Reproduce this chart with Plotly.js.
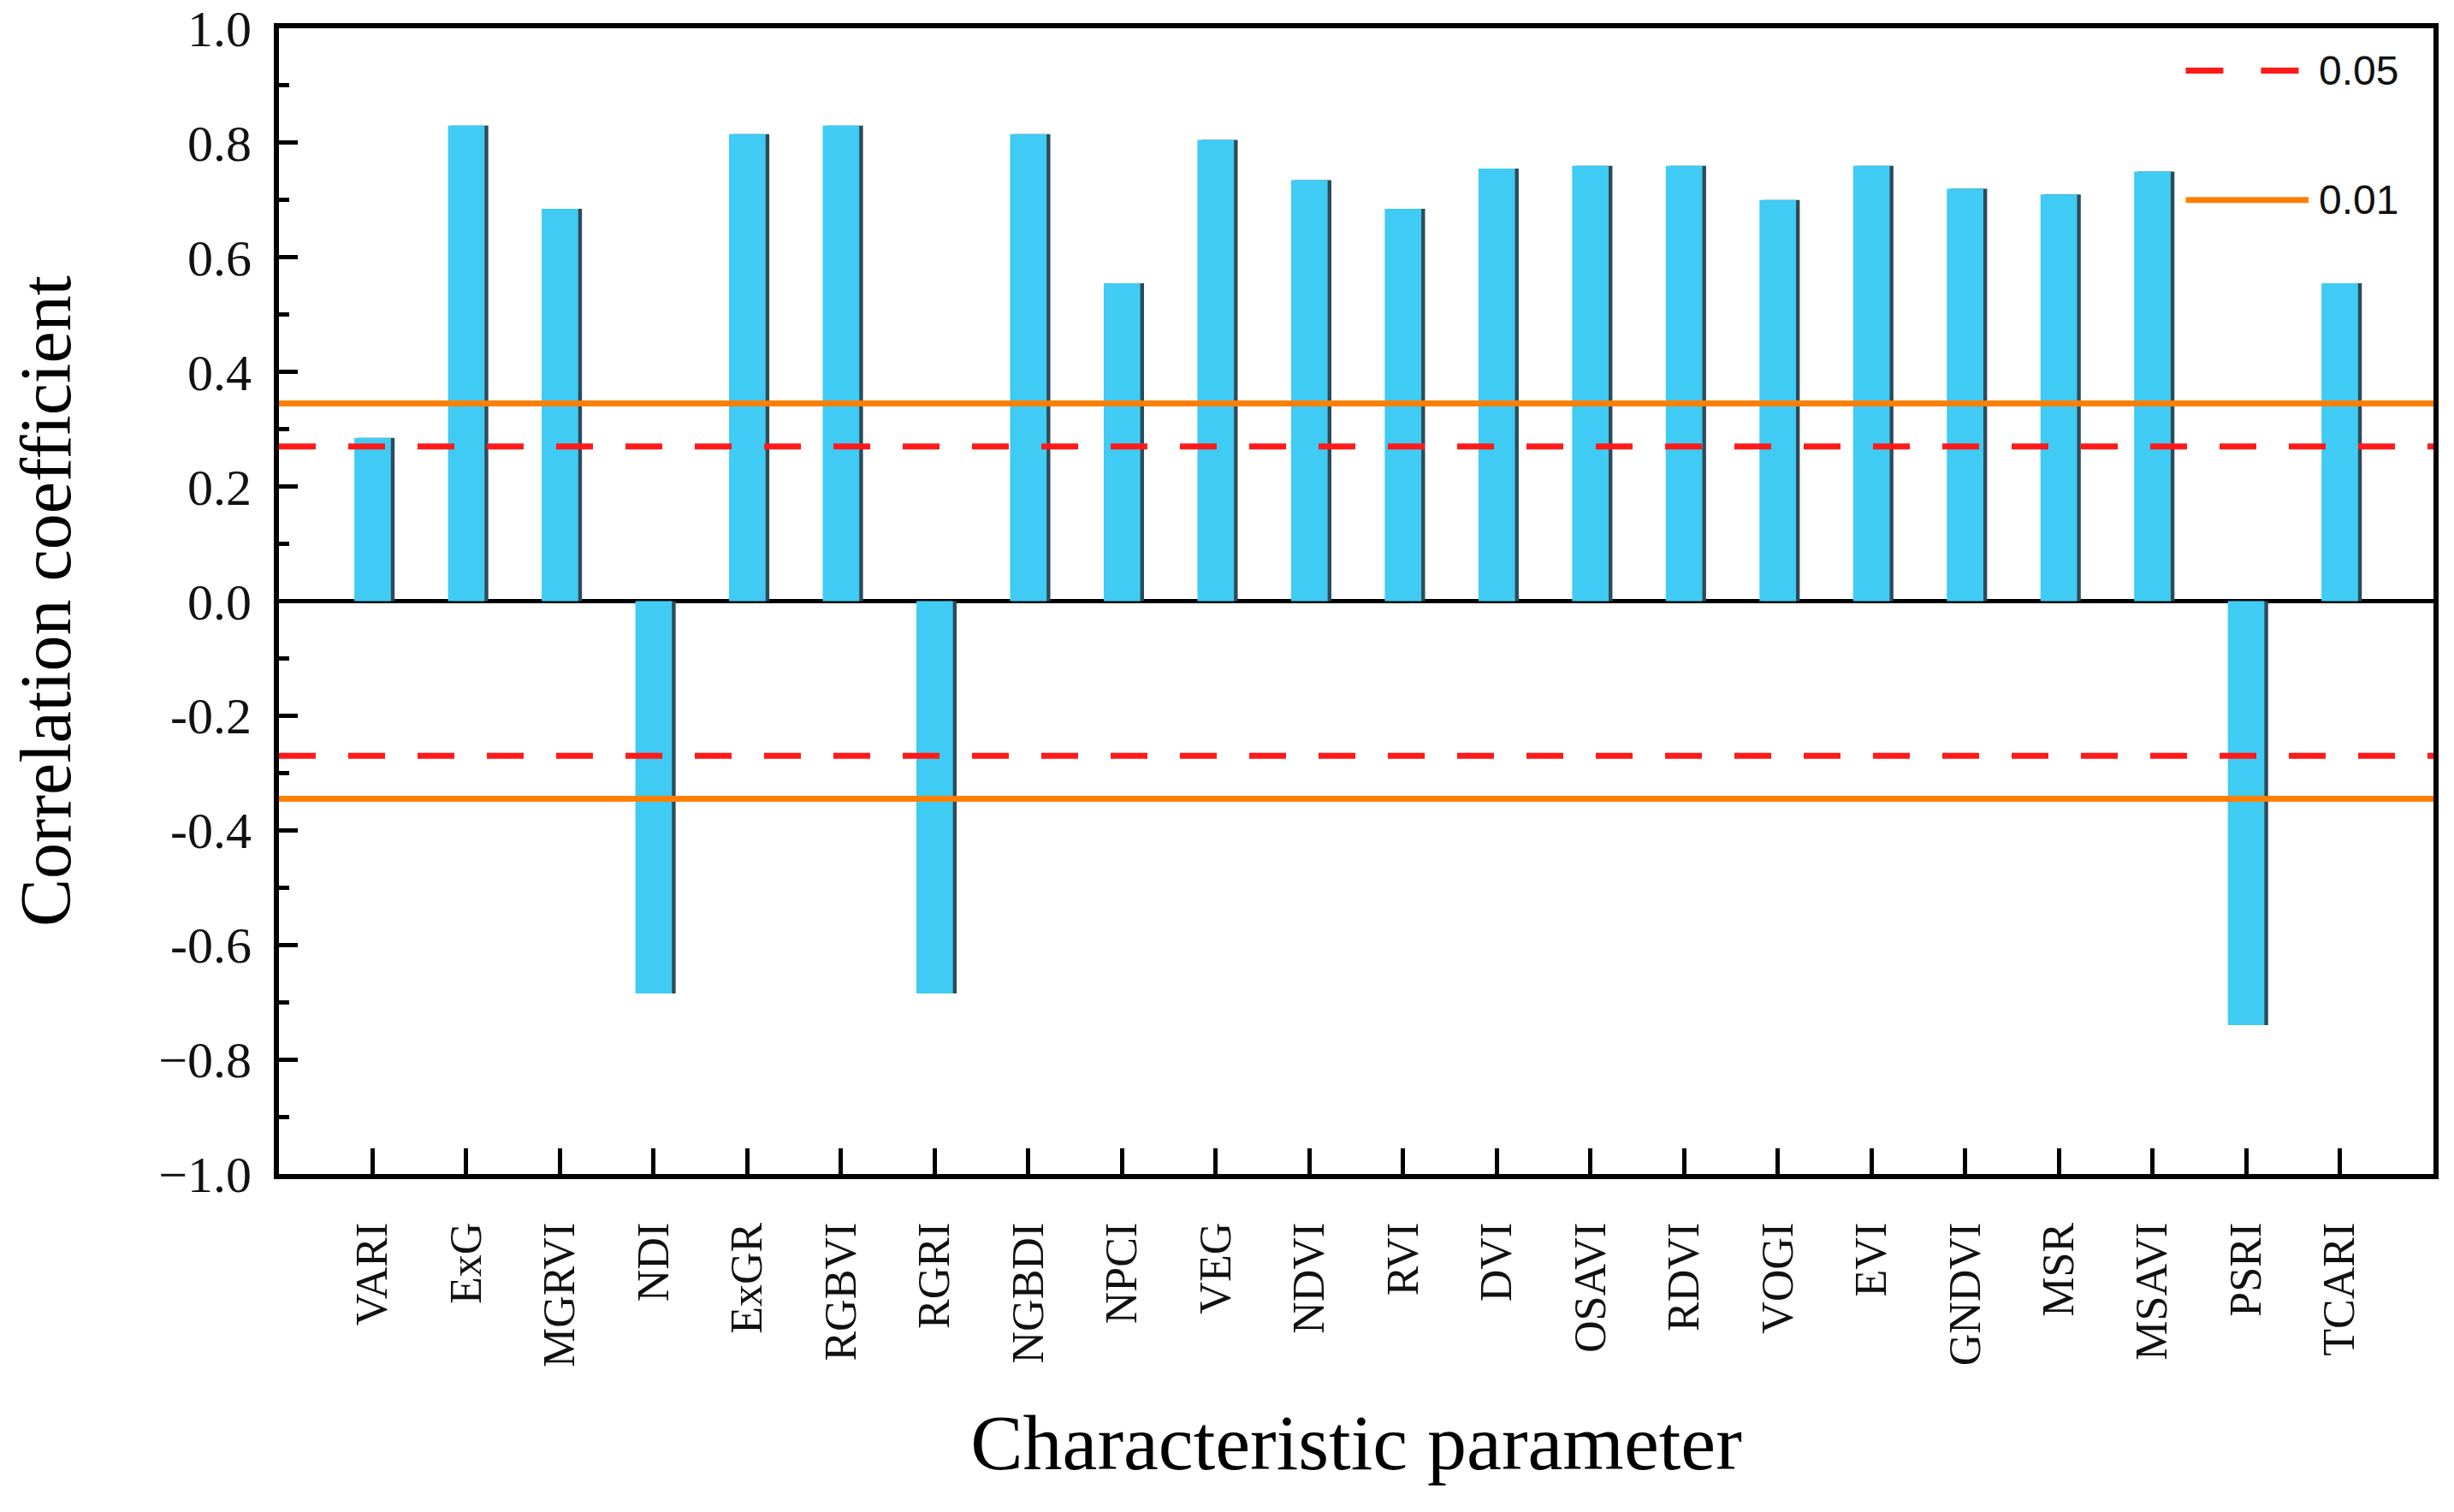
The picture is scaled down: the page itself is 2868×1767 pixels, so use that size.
<!DOCTYPE html>
<html>
<head>
<meta charset="utf-8">
<script src="https://cdn.plot.ly/plotly-3.0.1.min.js"></script>
<style>
html,body{margin:0;padding:0;background:#fff;}
#chart{width:2868px;height:1767px;}
</style>
</head>
<body>
<div id="chart"></div>
<script>
// ---- data ----
const categories = ['VARI','ExG','MGRVI','NDI','ExGR','RGBVI','RGRI','NGBDI','NPCI','VEG','NDVI','RVI','DVI','OSAVI','RDVI','VOGI','EVI','GNDVI','MSR','MSAVI','PSRI','TCARI'];
const correlation = [0.285,0.83,0.685,-0.685,0.815,0.83,-0.685,0.815,0.555,0.805,0.735,0.685,0.755,0.76,0.76,0.70,0.76,0.72,0.71,0.75,-0.74,0.555];
const thresholdLabels = ['0.05','0.01'];
const thresholdValues = [0.27, 0.345];
const yTickValues = [-1.0,-0.8,-0.6,-0.4,-0.2,0.0,0.2,0.4,0.6,0.8,1.0];
const yTickLabels = ['\u22121.0','\u22120.8','-0.6','-0.4','-0.2','0.0','0.2','0.4','0.6','0.8','1.0'];
const xTitle = 'Characteristic parameter';
const yTitle = 'Correlation coefficient';

const idx = categories.map((c,i)=>i);
const xEnds = [-1, categories.length];

const traces = [];
// bar shadow (dark right edge)
traces.push({
  type:'bar', x: idx, y: correlation, width: 0.39, offset: -0.195 + 0.04,
  marker:{color:'#2d4b57', line:{width:0}}, showlegend:false, hoverinfo:'skip'
});
traces.push({
  type:'bar', x: idx, y: correlation, width: 0.39, offset: -0.195,
  marker:{color:'#3FCBF4', line:{width:0}}, showlegend:false, name:'r'
});
// threshold lines
const styles = [
  {color:'#FF1A1A', width:7, dash:'43px,38px'},
  {color:'#FF8000', width:7, dash:'solid'}
];
thresholdValues.forEach((v,k)=>{
  [v,-v].forEach(val=>{
    traces.push({type:'scatter', mode:'lines', x: xEnds, y:[val,val],
      line: styles[k], showlegend:false, hoverinfo:'skip', name: thresholdLabels[k]});
  });
});

// custom legend (long line samples)
const legendY = [0.963, 0.850];
const shapes = [];
const annotations = [];
thresholdLabels.forEach((lab,k)=>{
  shapes.push({type:'line', xref:'paper', yref:'paper', x0:0.885, x1: 0.942, y0:legendY[k], y1:legendY[k],
    line:{color:styles[k].color, width:7, dash: k===0?'44px,44px':'solid'}});
  annotations.push({xref:'paper', yref:'paper', x:0.946, y:legendY[k], xanchor:'left', yanchor:'middle',
    text: lab, showarrow:false, font:{family:'Liberation Sans, Arial, sans-serif', size:48, color:'#111'}});
});

const layout = {
  width:2868, height:1767,
  margin:{l:326, r:24, t:33, b:395},
  paper_bgcolor:'#fff', plot_bgcolor:'#fff',
  showlegend:false,
  barmode:'overlay',
  font:{family:'Liberation Serif, Times New Roman, serif', color:'#111'},
  xaxis:{
    range: xEnds, tickmode:'array', tickvals: idx, ticktext: categories,
    tickangle:-90, ticks:'inside', ticklen:30, tickwidth:5, tickcolor:'#000',
    showline:true, linewidth:6, linecolor:'#000', mirror:true,
    showgrid:false, zeroline:false,
    tickfont:{family:'Liberation Serif, Times New Roman, serif', size:52, color:'#111'},
    ticklabelstandoff: 30,
    title:{text:xTitle, font:{family:'Liberation Serif, Times New Roman, serif', size:92, color:'#000'}, standoff:58}
  },
  yaxis:{
    range:[-1,1], tickmode:'array', tickvals: yTickValues, ticktext: yTickLabels,
    ticks:'inside', ticklen:22, tickwidth:5, tickcolor:'#000',
    minor:{ticks:'inside', ticklen:12, tickwidth:5, tickcolor:'#000', dtick:0.1, showgrid:false},
    showline:true, linewidth:6, linecolor:'#000', mirror:true,
    showgrid:false, zeroline:true, zerolinecolor:'#000', zerolinewidth:5,
    tickfont:{family:'Liberation Serif, Times New Roman, serif', size:60, color:'#111'},
    ticklabelstandoff: 14, ticklabeloverflow:'allow',
    title:{text:yTitle, font:{family:'Liberation Serif, Times New Roman, serif', size:84, color:'#000'}, standoff:77}
  },
  shapes: shapes,
  annotations: annotations
};

Plotly.newPlot('chart', traces, layout, {displayModeBar:false, staticPlot:true});
</script>
</body>
</html>
